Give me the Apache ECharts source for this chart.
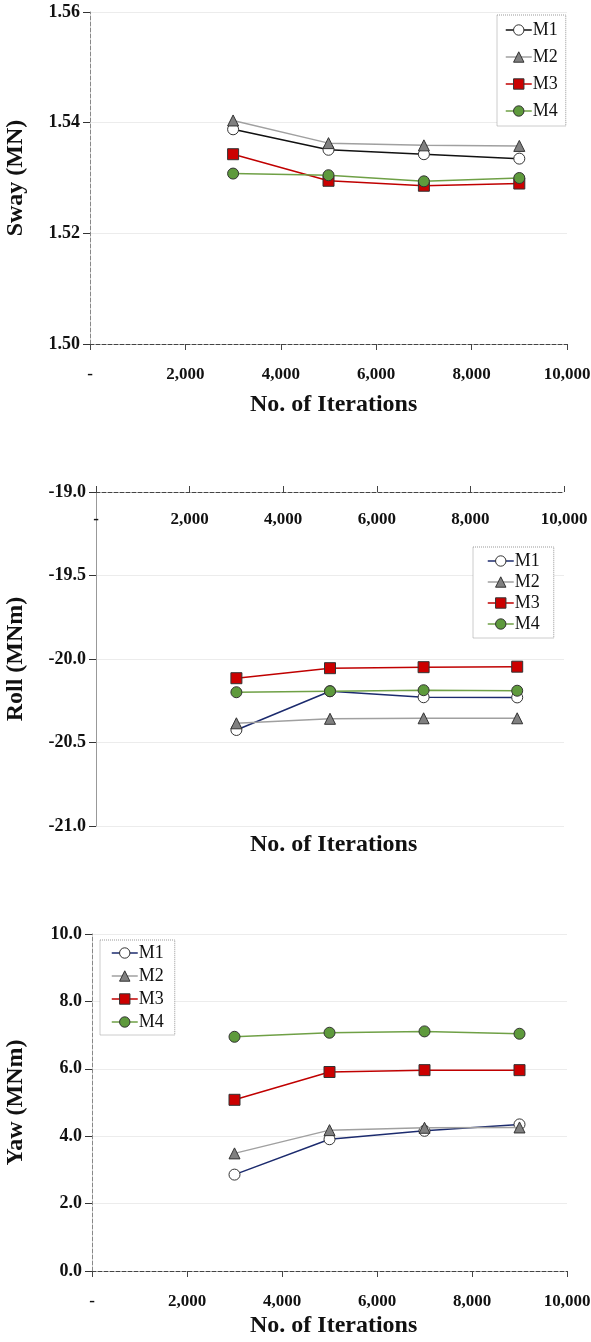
<!DOCTYPE html>
<html>
<head>
<meta charset="utf-8">
<script src="https://cdn.jsdelivr.net/npm/echarts@6/dist/echarts.min.js"></script>
<style>
html,body{margin:0;padding:0;background:#fff;}
#c{width:591px;height:1342px;}
</style>
</head>
<body>
<div id="c"></div>
<script>
// ---- data ----
var iterations = [3000, 5000, 7000, 9000];
var seriesNames = ['M1', 'M2', 'M3', 'M4'];
var xTicks = [0, 2000, 4000, 6000, 8000, 10000];

var swayM1 = [1.5388, 1.5351, 1.5343, 1.5335];
var swayM2 = [1.5404, 1.5363, 1.5359, 1.5358];
var swayM3 = [1.5343, 1.5295, 1.5286, 1.5290];
var swayM4 = [1.5308, 1.5305, 1.5294, 1.5300];

var rollM1 = [-20.425, -20.193, -20.229, -20.230];
var rollM2 = [-20.385, -20.358, -20.355, -20.355];
var rollM3 = [-20.115, -20.055, -20.049, -20.046];
var rollM4 = [-20.199, -20.193, -20.187, -20.190];

var yawM1 = [2.86, 3.91, 4.16, 4.35];
var yawM2 = [3.49, 4.18, 4.25, 4.26];
var yawM3 = [5.08, 5.905, 5.96, 5.96];
var yawM4 = [6.95, 7.07, 7.11, 7.04];

var yTitles = ['Sway (MN)', 'Roll (MNm)', 'Yaw (MNm)'];
var xTitle = 'No. of Iterations';

// ---- styles ----
var FONT = '"Liberation Serif", "Times New Roman", serif';
var navy = '#1c2b6e';
var styleDefs = {
  M1: {symbol: 'circle', fill: '#ffffff', line: '#111111'},
  M2: {symbol: 'triangle', fill: '#808080', line: '#a0a0a0'},
  M3: {symbol: 'rect', fill: '#cc0000', line: '#c00000'},
  M4: {symbol: 'circle', fill: '#5e9a3c', line: '#6fa046'}
};

function pairs(vals) {
  return iterations.map(function (x, i) { return [x, vals[i]]; });
}
function xFmt(v) { return v === 0 ? '-' : v.toLocaleString('en-US'); }

var grids = [
  {left: 90, top: 12, width: 477, height: 332},
  {left: 96, top: 492, width: 468, height: 334},
  {left: 92, top: 934, width: 475, height: 337}
];
grids.forEach(function (g) { g.outerBoundsMode = 'none'; g.containLabel = false; });

var xAxes = [0, 1, 2].map(function (i) {
  return {
    type: 'value', gridIndex: i, min: 0, max: 10000, interval: 2000,
    position: i === 1 ? 'top' : 'bottom',
    axisLine: {show: true, onZero: false, lineStyle: {color: '#444', type: 'dashed', width: 1}},
    axisTick: {show: true, length: 6, inside: false, lineStyle: {color: '#444'}},
    splitLine: {show: false},
    axisLabel: {
      inside: i === 1, margin: i === 1 ? 19 : 22,
      formatter: xFmt, color: '#111', fontFamily: FONT, fontWeight: 'bold', fontSize: 17,
      showMinLabel: true, showMaxLabel: true
    }
  };
});

var yCfg = [
  {min: 1.50, max: 1.56, interval: 0.02, dec: 2, gap: 62},
  {min: -21, max: -19, interval: 0.5, dec: 1, gap: 68},
  {min: 0, max: 10, interval: 2, dec: 1, gap: 64}
];
var yAxes = yCfg.map(function (c, i) {
  return {
    type: 'value', gridIndex: i, min: c.min, max: c.max, interval: c.interval,
    name: yTitles[i], nameLocation: 'middle', nameRotate: 90, nameGap: c.gap,
    nameTextStyle: {color: '#111', fontFamily: FONT, fontWeight: 'bold', fontSize: 24},
    axisLine: {show: true, lineStyle: {color: i === 1 ? '#999' : '#888', type: i === 1 ? 'solid' : 'dashed', width: 1}},
    axisTick: {show: true, length: 7, lineStyle: {color: '#333'}},
    splitLine: {show: true, lineStyle: {color: '#ececec', width: 1}},
    axisLabel: {
      margin: 10, color: '#111', fontFamily: FONT, fontWeight: 'bold', fontSize: 18,
      formatter: function (v) { return v.toFixed(c.dec); }
    }
  };
});

var groups = [
  [swayM1, swayM2, swayM3, swayM4],
  [rollM1, rollM2, rollM3, rollM4],
  [yawM1, yawM2, yawM3, yawM4]
];
var series = [];
groups.forEach(function (grp, gi) {
  grp.forEach(function (vals, si) {
    var nm = seriesNames[si];
    var sd = styleDefs[nm];
    var lineColor = (nm === 'M1' && gi > 0) ? navy : sd.line;
    series.push({
      type: 'line', name: nm, xAxisIndex: gi, yAxisIndex: gi,
      data: pairs(vals), symbol: sd.symbol,
      symbolSize: 11,
      showSymbol: true, animation: false,
      lineStyle: {color: lineColor, width: 1.5},
      itemStyle: {color: sd.fill, borderColor: '#333', borderWidth: 1},
      z: 2 + si
    });
  });
});

function legendData(gi) {
  return seriesNames.map(function (nm) {
    var sd = styleDefs[nm];
    var lc = (nm === 'M1' && gi > 0) ? navy : sd.line;
    return {name: nm, lineStyle: {color: lc, width: 1.5}, itemStyle: {color: sd.fill, borderColor: '#333', borderWidth: 1}};
  });
}
var legendPos = [
  {left: 497, top: 15, itemGap: 9, padding: [6, 8, 6, 8]},
  {left: 473, top: 547, itemGap: 3, padding: [5, 14, 5, 14]},
  {left: 100, top: 940, itemGap: 5, padding: [4, 11, 4, 11]}
];
var legends = legendPos.map(function (p, gi) {
  return {
    orient: 'vertical', left: p.left, top: p.top, itemGap: p.itemGap, padding: p.padding,
    itemWidth: 26, itemHeight: 13, data: legendData(gi),
    borderColor: '#999', borderWidth: 1, borderType: 'dotted', backgroundColor: '#fff',
    textStyle: {color: '#111', fontFamily: FONT, fontWeight: 'normal', fontSize: 18, lineHeight: 16, padding: [0, 0, 0, -4]},
    selectedMode: false
  };
});

var xTitleY = [406, 846, 1327];
var graphics = xTitleY.map(function (y) {
  return {
    type: 'text', left: 250, top: y - 13,
    style: {text: xTitle, fill: '#111', font: 'bold 24px ' + FONT}
  };
});

var chart = echarts.init(document.getElementById('c'), null, {renderer: 'canvas'});
chart.setOption({
  backgroundColor: '#ffffff',
  animation: false,
  grid: grids,
  xAxis: xAxes,
  yAxis: yAxes,
  legend: legends,
  series: series,
  graphic: graphics
});
</script>
</body>
</html>
